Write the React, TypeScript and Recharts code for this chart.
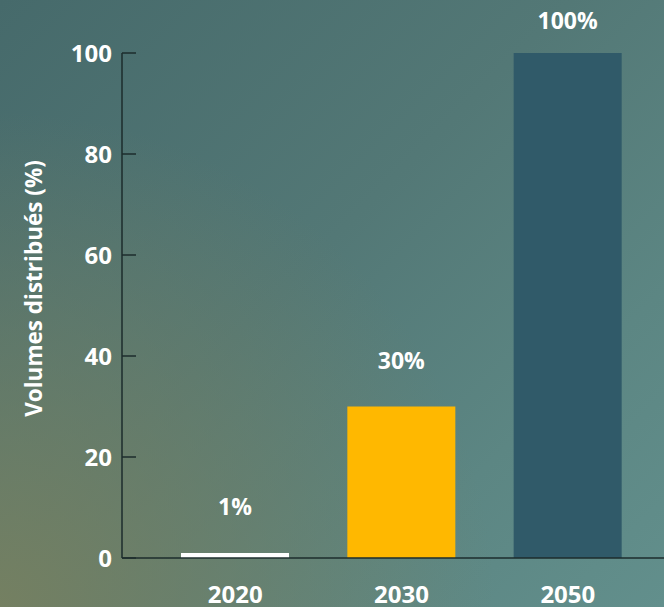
import { BarChart, Bar, XAxis, YAxis, Cell, LabelList, Label } from "recharts";

const YEARS = ["2020", "2030", "2050"];
const VOLUMES = [1, 30, 100];
const BAR_COLORS = ["#ffffff", "#ffb800", "#305a69"];
const Y_TICKS = [0, 20, 40, 60, 80, 100];

const FONT = "'Open Sans', 'DejaVu Sans', sans-serif";
const AXIS_COLOR = "#1d2c2c";

const data = YEARS.map((year, i) => ({ year, value: VOLUMES[i] }));

// y ticks: label on the left, small tick mark pointing into the plot
const YTick = (props: any) => {
   const { x, y, payload } = props;
   return (
      <g>
         <line x1={x + 10} x2={x + 24} y1={y} y2={y} stroke={AXIS_COLOR} strokeWidth={1.5} />
         <text
            x={x}
            y={y}
            dy="0.36em"
            textAnchor="end"
            fill="#fff"
            fontFamily={FONT}
            fontWeight={700}
            fontSize={24}>
            {payload.value}
         </text>
      </g>
   );
};

const YTitle = (props: any) => {
   const { viewBox } = props;
   const cx = viewBox.x + 33;
   const cy = viewBox.y + viewBox.height / 2 - 17;
   return (
      <text
         x={cx}
         y={cy}
         transform={`rotate(-90, ${cx}, ${cy})`}
         textAnchor="middle"
         dominantBaseline="central"
         fill="#fff"
         fontFamily={FONT}
         fontWeight={700}
         fontSize={22.5}>
         Volumes distribués (%)
      </text>
   );
};

// value label above each bar, kept inside the picture for the tallest bar
const BarValue = (props: any) => {
   const { x, y, width, value } = props;
   const baseline = Math.max(y - 38, 29);
   return (
      <text
         x={x + width / 2}
         y={baseline}
         textAnchor="middle"
         fill="#fff"
         fontFamily={FONT}
         fontWeight={700}
         fontSize={23}>
         {`${value}%`}
      </text>
   );
};

const App = () => {
   return (
      <div
         style={{
            position: "absolute",
            left: 0,
            top: 0,
            width: 664,
            height: 607,
            overflow: "hidden",
            background:
               "radial-gradient(circle at 0% 100%, rgba(118,128,96,0.95) 0%, rgba(118,128,96,0) 55%), linear-gradient(135deg, #466a6b 0%, #537876 45%, #5c8683 75%, #628f8c 100%)",
         }}>
         <BarChart width={664} height={607} data={data} margin={{ top: 53, right: 0, bottom: 0, left: 0 }}>
            <XAxis
               dataKey="year"
               height={49}
               padding={{ left: 30, right: 13 }}
               axisLine={{ stroke: AXIS_COLOR, strokeWidth: 1.5 }}
               tickLine={false}
               tickSize={0}
               tickMargin={28}
               tick={{ fill: "#fff", fontFamily: FONT, fontWeight: 700, fontSize: 24 }}
            />
            <YAxis
               width={122}
               domain={[0, 100]}
               ticks={Y_TICKS}
               interval={0}
               axisLine={{ stroke: AXIS_COLOR, strokeWidth: 1.5 }}
               tickLine={false}
               tickSize={0}
               tickMargin={10}
               tick={<YTick />}>
               <Label content={<YTitle />} />
            </YAxis>
            <Bar dataKey="value" barSize={108} isAnimationActive={false}>
               {data.map((d, i) => (
                  <Cell key={d.year} fill={BAR_COLORS[i]} />
               ))}
               <LabelList dataKey="value" content={<BarValue />} />
            </Bar>
         </BarChart>
      </div>
   );
};

export default App;
